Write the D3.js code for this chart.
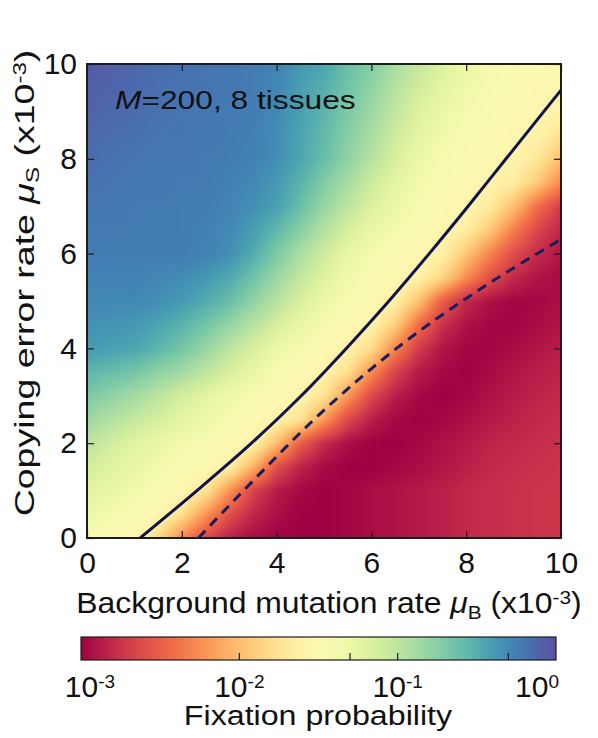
<!DOCTYPE html>
<html>
<head>
<meta charset="utf-8">
<script src="https://cdn.jsdelivr.net/npm/d3@7"></script>
<style>
body { margin: 0; background: #fff; }
svg { font-family: "Liberation Sans", Arial, sans-serif; }
</style>
</head>
<body>
<svg id="chart" width="598" height="738"></svg>
<script>
// grid of the heat map: background mutation rate (x) and copying error rate (y), both x10^-3
var muB = [0, 0.5, 1, 1.5, 2, 2.5, 3, 3.5, 4, 4.5, 5, 5.5, 6, 6.5, 7, 7.5, 8, 8.5, 9, 9.5, 10];
var muS = [0, 0.5, 1, 1.5, 2, 2.5, 3, 3.5, 4, 4.5, 5, 5.5, 6, 6.5, 7, 7.5, 8, 8.5, 9, 9.5, 10];

// log10 fixation probability, one row per muS value (bottom row first)
var logFix = [
  [-1.41,-1.47,-1.53,-1.84,-2.28,-2.63,-2.84,-2.95,-2.99,-3.0,-3.0,-2.97,-2.94,-2.91,-2.88,-2.85,-2.8,-2.78,-2.76,-2.74,-2.73],
  [-1.3,-1.38,-1.44,-1.53,-1.79,-2.21,-2.58,-2.81,-2.93,-2.99,-3.0,-2.97,-2.94,-2.91,-2.88,-2.85,-2.8,-2.78,-2.76,-2.74,-2.73],
  [-1.2,-1.28,-1.35,-1.44,-1.53,-1.75,-2.22,-2.66,-2.87,-2.96,-3.0,-2.97,-2.94,-2.91,-2.88,-2.85,-2.8,-2.78,-2.76,-2.74,-2.73],
  [-1.1,-1.19,-1.28,-1.36,-1.44,-1.5,-1.63,-2.06,-2.58,-2.83,-2.95,-3.0,-3.0,-2.97,-2.94,-2.9,-2.85,-2.8,-2.78,-2.76,-2.74],
  [-0.99,-1.1,-1.2,-1.28,-1.35,-1.43,-1.5,-1.59,-2.0,-2.50,-2.79,-2.93,-2.99,-3.0,-2.96,-2.92,-2.88,-2.83,-2.8,-2.78,-2.76],
  [-0.84,-0.94,-1.04,-1.13,-1.23,-1.32,-1.41,-1.5,-1.59,-1.76,-2.2,-2.62,-2.86,-2.96,-2.99,-2.97,-2.93,-2.88,-2.84,-2.8,-2.78],
  [-0.69,-0.78,-0.87,-0.99,-1.11,-1.22,-1.32,-1.41,-1.5,-1.56,-1.76,-2.2,-2.62,-2.86,-2.96,-3.0,-2.97,-2.92,-2.87,-2.83,-2.8],
  [-0.54,-0.6,-0.66,-0.77,-0.87,-1.0,-1.14,-1.27,-1.41,-1.5,-1.59,-1.78,-2.25,-2.66,-2.88,-2.96,-2.99,-2.95,-2.9,-2.86,-2.83],
  [-0.39,-0.42,-0.45,-0.54,-0.66,-0.81,-0.99,-1.14,-1.29,-1.4,-1.5,-1.59,-1.8,-2.3,-2.7,-2.9,-2.97,-2.98,-2.94,-2.9,-2.86],
  [-0.35,-0.36,-0.38,-0.44,-0.53,-0.65,-0.8,-0.96,-1.13,-1.27,-1.4,-1.5,-1.61,-1.9,-2.42,-2.76,-2.92,-2.97,-2.98,-2.94,-2.9],
  [-0.3,-0.3,-0.3,-0.33,-0.39,-0.48,-0.6,-0.78,-0.96,-1.14,-1.29,-1.41,-1.5,-1.63,-1.98,-2.5,-2.8,-2.92,-2.97,-2.97,-2.93],
  [-0.27,-0.27,-0.27,-0.29,-0.32,-0.38,-0.47,-0.63,-0.83,-1.02,-1.19,-1.34,-1.44,-1.53,-1.61,-1.85,-2.25,-2.58,-2.8,-2.9,-2.95],
  [-0.24,-0.24,-0.24,-0.24,-0.24,-0.27,-0.33,-0.48,-0.69,-0.9,-1.08,-1.26,-1.38,-1.47,-1.53,-1.63,-1.95,-2.3,-2.6,-2.78,-2.9],
  [-0.23,-0.23,-0.23,-0.23,-0.24,-0.26,-0.3,-0.41,-0.56,-0.75,-0.95,-1.13,-1.28,-1.38,-1.47,-1.56,-1.66,-1.94,-2.32,-2.64,-2.82],
  [-0.21,-0.21,-0.23,-0.23,-0.24,-0.24,-0.27,-0.33,-0.42,-0.6,-0.81,-0.99,-1.17,-1.29,-1.41,-1.5,-1.56,-1.68,-2.0,-2.4,-2.7],
  [-0.18,-0.2,-0.21,-0.22,-0.23,-0.23,-0.26,-0.3,-0.38,-0.53,-0.71,-0.89,-1.07,-1.22,-1.35,-1.45,-1.52,-1.59,-1.67,-1.93,-2.27],
  [-0.15,-0.18,-0.2,-0.21,-0.21,-0.23,-0.24,-0.26,-0.33,-0.45,-0.6,-0.78,-0.96,-1.14,-1.29,-1.4,-1.47,-1.53,-1.58,-1.72,-2.0],
  [-0.13,-0.16,-0.17,-0.2,-0.2,-0.22,-0.23,-0.25,-0.32,-0.44,-0.57,-0.74,-0.9,-1.08,-1.23,-1.34,-1.43,-1.49,-1.53,-1.6,-1.76],
  [-0.1,-0.13,-0.15,-0.18,-0.2,-0.21,-0.23,-0.24,-0.3,-0.42,-0.54,-0.69,-0.84,-1.02,-1.17,-1.29,-1.38,-1.44,-1.5,-1.56,-1.6],
  [-0.08,-0.11,-0.14,-0.17,-0.19,-0.2,-0.22,-0.24,-0.29,-0.41,-0.5,-0.65,-0.78,-0.96,-1.1,-1.23,-1.34,-1.41,-1.47,-1.52,-1.56],
  [-0.06,-0.09,-0.12,-0.15,-0.18,-0.2,-0.21,-0.24,-0.27,-0.39,-0.45,-0.6,-0.72,-0.9,-1.02,-1.17,-1.29,-1.38,-1.44,-1.47,-1.5]
];

// the two threshold curves
var solidB = [1.12, 2.32, 3.47, 4.52, 5.47, 6.37, 7.22, 8.04, 8.84, 9.64, 10.0];
var solidS = [0, 1, 2, 3, 4, 5, 6, 7, 8, 9, 9.45];
var dashB = [2.35, 3.4, 4.78, 6.62, 7.95, 10];
var dashS = [0, 1.1, 2.49, 4.07, 5.02, 6.3];

var axisTicks = [0, 2, 4, 6, 8, 10];
var cbLabels = [1e-3, 1e-2, 1e-1, 1];
var cbLabelExp = ['-3', '-2', '-1', '0'];
var cbMinor = [1e-2, 5e-2, 1e-1, 5e-1];

// LAYOUT
var pL = 87, pR = 561, pT = 64, pB = 538;
var cbL = 81, cbR = 556, cbT = 637, cbB = 660;
var ink = '#1c1c1c';

var x = d3.scaleLinear().domain([0, 10]).range([pL, pR]);
var y = d3.scaleLinear().domain([0, 10]).range([pB, pT]);
var color = d3.scaleSequential(d3.interpolateSpectral).domain([-3, 0]);

var svg = d3.select('#chart');

// HEAT MAP (bilinear between grid points, like imshow smoothing)
function lookup(b, s) {
    var i = Math.max(0, Math.min(muB.length - 2, d3.bisectRight(muB, b) - 1));
    var j = Math.max(0, Math.min(muS.length - 2, d3.bisectRight(muS, s) - 1));
    var fx = Math.max(0, Math.min(1, (b - muB[i]) / (muB[i+1] - muB[i])));
    var fy = Math.max(0, Math.min(1, (s - muS[j]) / (muS[j+1] - muS[j])));
    var a = logFix[j][i] * (1 - fx) + logFix[j][i+1] * fx;
    var c = logFix[j+1][i] * (1 - fx) + logFix[j+1][i+1] * fx;
    return a * (1 - fy) + c * fy;
}

var W = pR - pL, H = pB - pT;
var canvas = document.createElement('canvas');
canvas.width = W; canvas.height = H;
var ctx = canvas.getContext('2d');
var img = ctx.createImageData(W, H);
for (var py = 0; py < H; py++) {
    var s = y.invert(pT + py + 0.5);
    for (var px = 0; px < W; px++) {
        var b = x.invert(pL + px + 0.5);
        var c = d3.rgb(color(lookup(b, s)));
        var k = (py * W + px) * 4;
        img.data[k] = c.r; img.data[k+1] = c.g; img.data[k+2] = c.b; img.data[k+3] = 255;
    }
}
ctx.putImageData(img, 0, 0);

svg.append('image')
    .attr('x', pL).attr('y', pT)
    .attr('width', W).attr('height', H)
    .attr('preserveAspectRatio', 'none')
    .attr('href', canvas.toDataURL());

svg.append('clipPath').attr('id', 'plotclip')
    .append('rect').attr('x', pL).attr('y', pT).attr('width', W).attr('height', H);

// CURVES
var line = d3.line()
    .x(function(d) { return x(d[0]); })
    .y(function(d) { return y(d[1]); })
    .curve(d3.curveMonotoneX);

svg.append('path')
    .datum(d3.zip(solidB, solidS))
    .attr('clip-path', 'url(#plotclip)')
    .attr('fill', 'none')
    .attr('stroke', '#11124a')
    .attr('stroke-width', 3)
    .attr('d', line);

svg.append('path')
    .datum(d3.zip(dashB, dashS))
    .attr('clip-path', 'url(#plotclip)')
    .attr('fill', 'none')
    .attr('stroke', '#1a1c5c')
    .attr('stroke-width', 3)
    .attr('stroke-dasharray', '10,7')
    .attr('d', line);

// AXES (ticks point inward on all four sides)
function styleAxis(g, fs) {
    g.select('.domain').remove();
    g.selectAll('.tick line').attr('stroke', ink).attr('stroke-width', 1.2);
    g.selectAll('.tick text').attr('fill', '#111').style('font-size', fs + 'px')
        .style('font-family', '"Liberation Sans", Arial, sans-serif');
}

svg.append('g')
    .attr('transform', 'translate(0,' + pB + ')')
    .call(d3.axisBottom(x).tickValues(axisTicks).tickSizeInner(-7).tickSizeOuter(0).tickPadding(14))
    .call(styleAxis, 30);
svg.append('g')
    .attr('transform', 'translate(0,' + pT + ')')
    .call(d3.axisTop(x).tickValues(axisTicks).tickSizeInner(-7).tickSizeOuter(0).tickFormat(''))
    .call(styleAxis, 30);
svg.append('g')
    .attr('transform', 'translate(' + pL + ',0)')
    .call(d3.axisLeft(y).tickValues(axisTicks).tickSizeInner(-7).tickSizeOuter(0).tickPadding(10))
    .call(styleAxis, 30);
svg.append('g')
    .attr('transform', 'translate(' + pR + ',0)')
    .call(d3.axisRight(y).tickValues(axisTicks).tickSizeInner(-7).tickSizeOuter(0).tickFormat(''))
    .call(styleAxis, 30);

svg.append('rect')
    .attr('x', pL).attr('y', pT).attr('width', W).attr('height', H)
    .attr('fill', 'none').attr('stroke', ink).attr('stroke-width', 2);

// annotation (the original lettering is a little wider than Arial)
var note = svg.append('text')
    .attr('transform', 'translate(115,109) scale(1.22,1)')
    .style('font-size', '26px').attr('fill', '#111');
note.append('tspan').style('font-style', 'italic').text('M');
note.append('tspan').text('=200, 8 tissues');

// axis titles
var xt = svg.append('text')
    .attr('transform', 'translate(329,613) scale(1.1,1)')
    .attr('text-anchor', 'middle')
    .style('font-size', '29px').attr('fill', '#111');
xt.append('tspan').text('Background mutation rate ');
xt.append('tspan').style('font-style', 'italic').text('\u03bc');
xt.append('tspan').attr('baseline-shift', '-30%').style('font-size', '19px').text('B');
xt.append('tspan').text(' (x10');
xt.append('tspan').attr('baseline-shift', '45%').style('font-size', '19px').text('-3');
xt.append('tspan').text(')');

var yt = svg.append('text')
    .attr('transform', 'translate(34,283) rotate(-90) scale(1.34,1)')
    .attr('text-anchor', 'middle')
    .style('font-size', '28px').attr('fill', '#111');
yt.append('tspan').text('Copying error rate ');
yt.append('tspan').style('font-style', 'italic').text('\u03bc');
yt.append('tspan').attr('baseline-shift', '-30%').style('font-size', '18px').text('S');
yt.append('tspan').text(' (x10');
yt.append('tspan').attr('baseline-shift', '45%').style('font-size', '18px').text('-3');
yt.append('tspan').text(')');

// COLOUR BAR
var cb = d3.scaleLog().domain([1e-3, 1]).range([cbL, cbR]);
var grad = svg.append('defs').append('linearGradient')
    .attr('id', 'cbgrad').attr('x1', '0%').attr('x2', '100%').attr('y1', '0%').attr('y2', '0%');
grad.selectAll('stop')
    .data(d3.range(0, 1.0001, 0.05))
    .enter().append('stop')
    .attr('offset', function(t) { return (t * 100) + '%'; })
    .attr('stop-color', function(t) { return color(-3 + 3 * t); });

svg.append('rect')
    .attr('x', cbL).attr('y', cbT)
    .attr('width', cbR - cbL).attr('height', cbB - cbT)
    .attr('fill', 'url(#cbgrad)')
    .attr('stroke', ink).attr('stroke-width', 1.2);

svg.selectAll('.cbtick')
    .data(cbMinor)
    .enter().append('line')
    .attr('class', 'cbtick')
    .attr('x1', function(d) { return cb(d); })
    .attr('x2', function(d) { return cb(d); })
    .attr('y1', cbB).attr('y2', cbB - 7)
    .attr('stroke', ink).attr('stroke-width', 1.2);

// labels sit on their tick, the two end ones are pulled inside the bar
var cbl = svg.selectAll('.cblabel')
    .data(cbLabels)
    .enter().append('text')
    .attr('class', 'cblabel')
    .attr('x', function(d) { return Math.max(cbL + 9, Math.min(cbR - 19, cb(d))); })
    .attr('y', 697)
    .attr('text-anchor', 'middle')
    .style('font-size', '30px').attr('fill', '#111');
cbl.append('tspan').text('10');
cbl.append('tspan')
    .attr('baseline-shift', '45%')
    .style('font-size', '19px')
    .text(function(d, i) { return cbLabelExp[i]; });

svg.append('text')
    .attr('transform', 'translate(318,725) scale(1.15,1)')
    .attr('text-anchor', 'middle')
    .style('font-size', '28px').attr('fill', '#111')
    .text('Fixation probability');
</script>
</body>
</html>
